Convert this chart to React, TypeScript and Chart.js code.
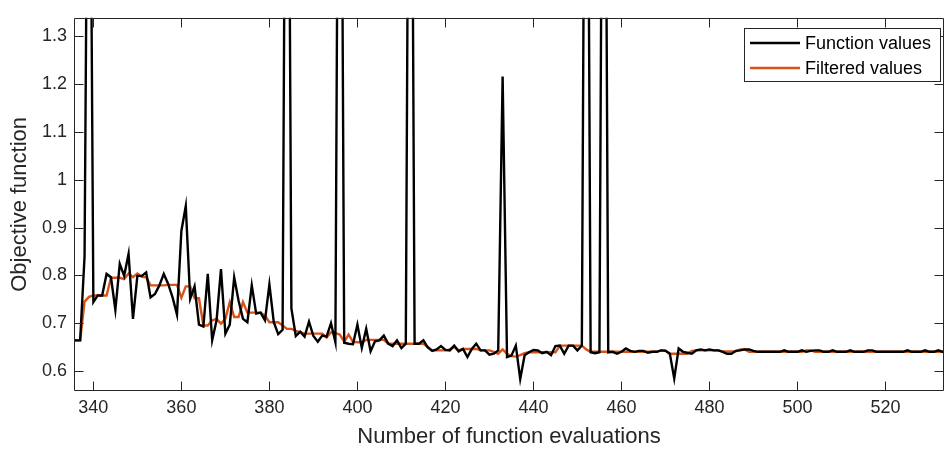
import React, { useEffect, useRef } from "react";
import { Chart, registerables } from "chart.js";

Chart.register(...registerables);

// Evaluation numbers start at this value, one point per evaluation
const firstEvaluation = 335;

const functionValues = [
  0.664, 0.664, 0.664, 0.840, 2.2, 0.744, 0.758, 0.758, 0.803, 0.796,
  0.728, 0.824, 0.799, 0.845, 0.709, 0.799, 0.799, 0.806, 0.754, 0.761,
  0.779, 0.803, 0.782, 0.754, 0.718, 0.893, 0.945, 0.751, 0.777, 0.697,
  0.693, 0.803, 0.664, 0.706, 0.813, 0.678, 0.697, 0.796, 0.747, 0.709,
  0.702, 0.779, 0.720, 0.722, 0.706, 0.781, 0.702, 0.677, 0.686, 2.5,
  0.731, 0.673, 0.682, 0.672, 0.703, 0.673, 0.661, 0.674, 0.672, 0.700,
  0.660, 2.5, 0.659, 0.657, 0.656, 0.697, 0.648, 0.688, 0.641, 0.662,
  0.664, 0.674, 0.657, 0.652, 0.664, 0.648, 0.657, 2.5, 0.657, 0.657,
  0.664, 0.649, 0.642, 0.645, 0.652, 0.644, 0.643, 0.653, 0.641, 0.646,
  0.629, 0.646, 0.657, 0.643, 0.643, 0.634, 0.636, 0.643, 1.216, 0.629,
  0.632, 0.653, 0.583, 0.633, 0.639, 0.644, 0.643, 0.637, 0.640, 0.633,
  0.652, 0.653, 0.636, 0.653, 0.653, 0.643, 0.653, 2.5, 0.639, 0.637,
  0.639, 2.5, 0.639, 0.640, 0.636, 0.640, 0.647, 0.642, 0.640, 0.642,
  0.642, 0.638, 0.640, 0.640, 0.643, 0.642, 0.636, 0.584, 0.647, 0.640,
  0.638, 0.636, 0.643, 0.645, 0.643, 0.645, 0.643, 0.643, 0.640, 0.636,
  0.636, 0.642, 0.643, 0.645, 0.645, 0.642, 0.640, 0.640, 0.640, 0.640,
  0.640, 0.640, 0.643, 0.640, 0.640, 0.640, 0.643, 0.640, 0.642, 0.643,
  0.643, 0.640, 0.640, 0.643, 0.640, 0.640, 0.640, 0.643, 0.640, 0.640,
  0.640, 0.643, 0.643, 0.640, 0.640, 0.640, 0.640, 0.640, 0.640, 0.640,
  0.643, 0.640, 0.640, 0.640, 0.643, 0.640, 0.640, 0.643, 0.640, 0.640,
];

const filteredValues = [
  0.664, 0.664, 0.664, 0.745, 0.755, 0.758, 0.758, 0.758, 0.758, 0.795,
  0.795, 0.795, 0.792, 0.804, 0.796, 0.804, 0.797, 0.796, 0.779, 0.779,
  0.779, 0.779, 0.780, 0.780, 0.780, 0.753, 0.777, 0.777, 0.752, 0.752,
  0.695, 0.695, 0.706, 0.709, 0.699, 0.709, 0.744, 0.713, 0.713, 0.744,
  0.722, 0.722, 0.722, 0.722, 0.716, 0.702, 0.702, 0.702, 0.695, 0.688,
  0.688, 0.684, 0.681, 0.678, 0.678, 0.678, 0.678, 0.678, 0.670, 0.681,
  0.679, 0.676, 0.661, 0.676, 0.661, 0.660, 0.660, 0.665, 0.665, 0.665,
  0.665, 0.665, 0.657, 0.657, 0.657, 0.657, 0.657, 0.657, 0.657, 0.657,
  0.657, 0.650, 0.643, 0.643, 0.643, 0.643, 0.645, 0.650, 0.643, 0.646,
  0.646, 0.646, 0.646, 0.643, 0.643, 0.643, 0.640, 0.636, 0.645, 0.636,
  0.631, 0.630, 0.633, 0.637, 0.639, 0.639, 0.639, 0.639, 0.639, 0.639,
  0.639, 0.653, 0.653, 0.653, 0.653, 0.653, 0.653, 0.645, 0.640, 0.640,
  0.640, 0.640, 0.640, 0.640, 0.640, 0.640, 0.640, 0.640, 0.640, 0.640,
  0.640, 0.640, 0.640, 0.640, 0.643, 0.643, 0.636, 0.636, 0.636, 0.636,
  0.636, 0.642, 0.643, 0.643, 0.643, 0.643, 0.643, 0.643, 0.641, 0.641,
  0.641, 0.641, 0.645, 0.645, 0.640, 0.640, 0.640, 0.640, 0.640, 0.640,
  0.640, 0.640, 0.640, 0.640, 0.640, 0.640, 0.640, 0.643, 0.643, 0.640,
  0.640, 0.640, 0.640, 0.640, 0.640, 0.640, 0.640, 0.640, 0.640, 0.640,
  0.640, 0.640, 0.640, 0.640, 0.640, 0.640, 0.640, 0.640, 0.640, 0.640,
  0.640, 0.640, 0.640, 0.640, 0.640, 0.640, 0.640, 0.640, 0.640, 0.640,
];

const xTickValues = [340, 360, 380, 400, 420, 440, 460, 480, 500, 520];
const yTickValues = [0.6, 0.7, 0.8, 0.9, 1.0, 1.1, 1.2, 1.3];
const seriesNames = ["Function values", "Filtered values"];
const seriesColors = ["#000000", "#D95319"];
const xTitle = "Number of function evaluations";
const yTitle = "Objective function";

const FONT = "'Liberation Sans', Arial, Helvetica, sans-serif";
const AXIS_COLOR = "#262626";

const framePlugin = {
  id: "matlabFrame",
  afterDatasetsDraw(chart: any) {
    const { ctx, chartArea, scales } = chart;
    const { left, right, top, bottom } = chartArea;
    ctx.save();
    ctx.strokeStyle = AXIS_COLOR;
    ctx.lineWidth = 1;
    ctx.beginPath();
    const L = Math.round(left) + 0.5;
    const R = Math.round(right) - 0.5;
    const T = Math.round(top) + 0.5;
    const B = Math.round(bottom) - 0.5;
    ctx.rect(L, T, R - L, B - T);
    const tl = 9;
    for (const v of xTickValues) {
      const px = Math.round(scales.x.getPixelForValue(v)) + 0.5;
      ctx.moveTo(px, B);
      ctx.lineTo(px, B - tl);
      ctx.moveTo(px, T);
      ctx.lineTo(px, T + tl);
    }
    for (const v of yTickValues) {
      const py = Math.round(scales.y.getPixelForValue(v)) + 0.5;
      ctx.moveTo(L, py);
      ctx.lineTo(L + tl, py);
      ctx.moveTo(R, py);
      ctx.lineTo(R - tl, py);
    }
    ctx.stroke();

    // legend
    const bx = 744.5, by = 28.5, bw = 196, bh = 53;
    ctx.fillStyle = "#ffffff";
    ctx.fillRect(bx, by, bw, bh);
    ctx.strokeStyle = AXIS_COLOR;
    ctx.lineWidth = 1;
    ctx.strokeRect(bx, by, bw, bh);
    ctx.font = `18px ${FONT}`;
    ctx.textBaseline = "middle";
    ctx.textAlign = "left";
    seriesNames.forEach((name, i) => {
      const y = 43 + i * 25;
      ctx.strokeStyle = seriesColors[i];
      ctx.lineWidth = 2.4;
      ctx.beginPath();
      ctx.moveTo(750, y);
      ctx.lineTo(800, y);
      ctx.stroke();
      ctx.fillStyle = "#000000";
      ctx.fillText(name, 805, y + 1);
    });
    ctx.restore();
  },
};

export default function App() {
  const canvasRef = useRef<HTMLCanvasElement | null>(null);

  useEffect(() => {
    const canvas = canvasRef.current;
    if (!canvas) return;
    const toPoints = (values: number[]) =>
      values.map((v, i) => ({ x: firstEvaluation + i, y: v }));

    const chart = new Chart(canvas, {
      type: "line",
      data: {
        datasets: [
          {
            label: seriesNames[0],
            data: toPoints(functionValues),
            borderColor: seriesColors[0],
            borderWidth: 2.4,
            pointRadius: 0,
            tension: 0,
            clip: 0 as any,
          },
          {
            label: seriesNames[1],
            data: toPoints(filteredValues),
            borderColor: seriesColors[1],
            borderWidth: 2.4,
            pointRadius: 0,
            tension: 0,
            clip: 0 as any,
          },
        ],
      },
      options: {
        responsive: false,
        animation: false,
        events: [],
        layout: { padding: { left: 0, top: 14, right: 1, bottom: 0 } },
        plugins: {
          legend: { display: false },
          tooltip: { enabled: false },
        },
        scales: {
          x: {
            type: "linear",
            min: 335.6,
            max: 533.3,
            grid: { display: false, drawTicks: false },
            border: { display: false },
            afterBuildTicks: (scale: any) => {
              scale.ticks = xTickValues.map((v) => ({ value: v }));
            },
            afterFit: (scale: any) => {
              scale.height = 64;
            },
            ticks: {
              padding: 6,
              color: AXIS_COLOR,
              font: { family: FONT, size: 18 },
              maxRotation: 0,
              autoSkip: false,
              callback: (v: any) => String(v),
            },
            title: {
              display: true,
              text: xTitle,
              color: AXIS_COLOR,
              font: { family: FONT, size: 22 },
              padding: { top: 0, bottom: 4.8 },
            },
          },
          y: {
            type: "linear",
            min: 0.558,
            max: 1.339,
            grid: { display: false, drawTicks: false },
            border: { display: false },
            afterBuildTicks: (scale: any) => {
              scale.ticks = yTickValues.map((v) => ({ value: v }));
            },
            afterFit: (scale: any) => {
              scale.width = 74;
            },
            ticks: {
              padding: 7,
              color: AXIS_COLOR,
              font: { family: FONT, size: 18 },
              autoSkip: false,
              callback: (v: any) => String(Math.round(Number(v) * 10) / 10),
            },
            title: {
              display: true,
              text: yTitle,
              color: AXIS_COLOR,
              font: { family: FONT, size: 22 },
              padding: { top: 6.8, bottom: 0 },
            },
          },
        },
      },
      plugins: [framePlugin],
    });
    return () => chart.destroy();
  }, []);

  return (
    <div style={{ position: "fixed", left: 0, top: 0, width: 945, height: 455, background: "#ffffff" }}>
      <canvas ref={canvasRef} width={945} height={455} style={{ display: "block" }} />
    </div>
  );
}
